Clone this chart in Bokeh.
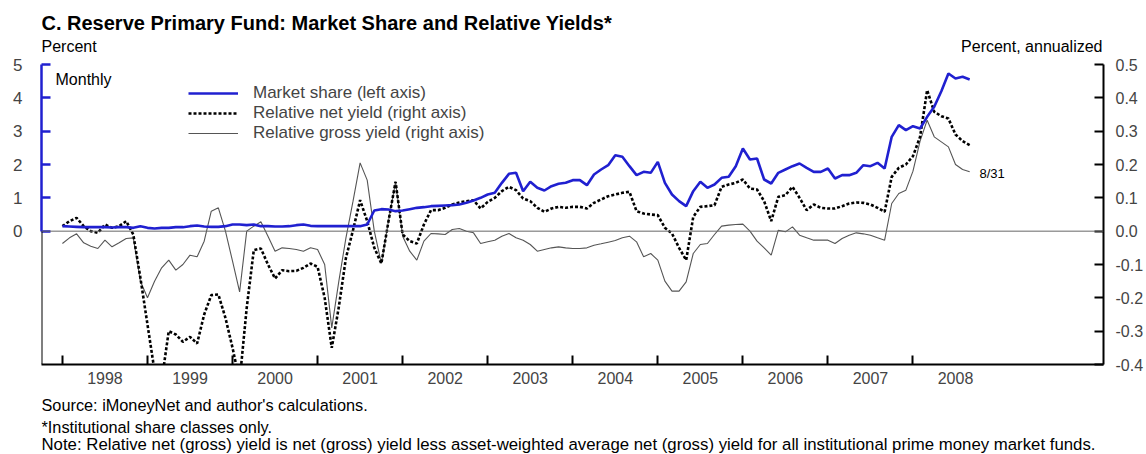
import pandas as pd
from bokeh.plotting import figure
from bokeh.layouts import column
from bokeh.core.properties import value
from bokeh.models import (Range1d, LinearAxis, FixedTicker, PrintfTickFormatter, Span, Label,
                          Legend, LegendItem, Arrow, CustomJSTickFormatter)
from bokeh.embed import file_html
from bokeh.resources import INLINE

# ---------------- data (month-end observations, 12/31/1997 .. 8/31/2008) ----------------
dates = pd.date_range("1997-12-31", "2008-08-31", freq="ME")
years = list(range(1998, 2009))

market_share = [  # percent, left axis
    0.15, 0.14, 0.13, 0.12, 0.12, 0.12, 0.12, 0.11, 0.12, 0.12,
    0.10, 0.15, 0.10, 0.08, 0.10, 0.10, 0.12, 0.12, 0.15, 0.17,
    0.14, 0.13, 0.13, 0.15, 0.20, 0.20, 0.18, 0.20, 0.15, 0.15,
    0.14, 0.14, 0.15, 0.18, 0.20, 0.16, 0.15, 0.15, 0.15, 0.15,
    0.15, 0.15, 0.15, 0.20, 0.62, 0.66, 0.65, 0.60, 0.62, 0.66,
    0.70, 0.72, 0.75, 0.76, 0.77, 0.78, 0.80, 0.85, 0.92, 1.00,
    1.10, 1.15, 1.45, 1.72, 1.75, 1.20, 1.48, 1.30, 1.22, 1.35,
    1.42, 1.45, 1.53, 1.53, 1.38, 1.70, 1.85, 1.98, 2.28, 2.23,
    1.95, 1.68, 1.78, 1.75, 2.08, 1.45, 1.10, 0.90, 0.75, 1.20,
    1.48, 1.30, 1.40, 1.60, 1.63, 1.95, 2.48, 2.15, 2.18, 1.55,
    1.43, 1.75, 1.85, 1.95, 2.03, 1.90, 1.78, 1.78, 1.88, 1.58,
    1.68, 1.68, 1.75, 1.98, 1.95, 2.05, 1.88, 2.83, 3.18, 3.03,
    3.15, 3.08, 3.43, 3.73, 4.20, 4.73, 4.58, 4.63, 4.55,
]

net_yield = [  # percent annualized, right axis
    0.015, 0.03, 0.04, 0.015, 0.0, -0.005, 0.02, 0.01, 0.015, 0.03,
    -0.01, -0.14, -0.28, -0.42, -0.45, -0.30, -0.31, -0.332, -0.317, -0.337,
    -0.25, -0.192, -0.19, -0.26, -0.35, -0.45, -0.23, -0.057, -0.052, -0.10,
    -0.142, -0.117, -0.12, -0.119, -0.11, -0.097, -0.107, -0.20, -0.35, -0.227,
    -0.08, 0.003, 0.093, 0.03, -0.05, -0.097, 0.03, 0.148, -0.01, -0.03,
    -0.037, 0.02, 0.063, 0.063, 0.07, 0.08, 0.086, 0.09, 0.093, 0.068,
    0.088, 0.10, 0.12, 0.133, 0.123, 0.098, 0.09, 0.07, 0.058, 0.068,
    0.073, 0.07, 0.073, 0.073, 0.068, 0.085, 0.095, 0.105, 0.11, 0.115,
    0.118, 0.06, 0.053, 0.05, 0.048, 0.01, -0.007, -0.05, -0.087, 0.043,
    0.073, 0.075, 0.078, 0.133, 0.14, 0.145, 0.155, 0.128, 0.125, 0.09,
    0.03, 0.103, 0.108, 0.133, 0.10, 0.063, 0.08, 0.07, 0.068, 0.068,
    0.075, 0.083, 0.086, 0.085, 0.08, 0.07, 0.058, 0.163, 0.19, 0.20,
    0.225, 0.283, 0.423, 0.358, 0.345, 0.338, 0.29, 0.27, 0.258,
]

gross_yield = [  # percent annualized, right axis
    -0.037, -0.02, -0.008, -0.035, -0.045, -0.052, -0.027, -0.047, -0.035, -0.022,
    -0.02, -0.15, -0.20, -0.15, -0.11, -0.087, -0.117, -0.10, -0.072, -0.077,
    -0.03, 0.06, 0.07, 0.0, -0.09, -0.182, 0.0, 0.015, 0.028, -0.015,
    -0.06, -0.05, -0.052, -0.055, -0.06, -0.05, -0.055, -0.10, -0.29, -0.15,
    -0.02, 0.09, 0.205, 0.153, 0.0, -0.097, 0.03, 0.148, -0.015, -0.06,
    -0.087, -0.03, -0.007, -0.008, -0.01, 0.005, 0.008, 0.0, -0.005, -0.037,
    -0.032, -0.027, -0.015, -0.007, -0.02, -0.027, -0.04, -0.06, -0.055, -0.05,
    -0.047, -0.05, -0.052, -0.052, -0.05, -0.042, -0.038, -0.033, -0.028, -0.02,
    -0.015, -0.032, -0.077, -0.067, -0.087, -0.15, -0.18, -0.18, -0.152, -0.067,
    -0.04, -0.037, -0.01, 0.015, 0.018, 0.02, 0.021, 0.0, -0.03, -0.05,
    -0.072, 0.003, -0.002, 0.013, -0.012, -0.02, -0.027, -0.027, -0.027, -0.037,
    -0.022, -0.012, -0.005, -0.008, -0.012, -0.02, -0.027, 0.083, 0.113, 0.123,
    0.18, 0.27, 0.333, 0.283, 0.268, 0.253, 0.20, 0.185, 0.178,
]

left_ticks = [0, 1, 2, 3, 4, 5]
right_ticks = [-0.4, -0.3, -0.2, -0.1, 0.0, 0.1, 0.2, 0.3, 0.4, 0.5]

title_text = "C. Reserve Primary Fund: Market Share and Relative Yields*"
left_unit = "Percent"
right_unit = "Percent, annualized"
notes = ["Source: iMoneyNet and author's calculations.",
         "*Institutional share classes only.",
         "Note: Relative net (gross) yield is net (gross) yield less asset-weighted average net "
         "(gross) yield for all institutional prime money market funds."]

x = [d.year + d.month / 12.0 for d in dates]

# ---------------- styling ----------------
FONT = "Liberation Sans"
BLUE = "#2020d0"
W = 1146
FX0, FX1 = 41, 1105          # page x of frame left / right (shared by all three figures)
X_START, X_END = 1997.754, 2010.24
HEAD_H, MAIN_H, FOOT_H = 54, 338, 62
FOOT_TOP = HEAD_H + MAIN_H    # page y of footer top


def text_fig(h):
    f = figure(width=W, height=h, x_range=Range1d(FX0, FX1), y_range=Range1d(h, 0),
               x_axis_location=None, y_axis_location=None, output_backend="svg",
               toolbar_location=None, min_border=0, min_border_left=FX0,
               min_border_right=W - FX1)
    f.title.visible = False
    f.grid.visible = False
    f.outline_line_color = None
    return f


# header
head = text_fig(HEAD_H)
head.text(x=[41], y=[22], text=[title_text], text_font=value(FONT), text_font_size="20px",
          text_font_style="bold", text_baseline="middle", text_align="left", text_color="black")
head.text(x=[41], y=[46], text=[left_unit], text_font=value(FONT), text_font_size="16px",
          text_baseline="middle", text_align="left", text_color="black")
head.text(x=[1104], y=[46], text=[right_unit], text_font=value(FONT), text_font_size="16px",
          text_baseline="middle", text_align="right", text_color="black")

# main chart
p = figure(width=W, height=MAIN_H, x_range=Range1d(X_START, X_END), y_range=Range1d(-0.4, 0.5),
           y_axis_location="right", output_backend="svg", toolbar_location=None,
           min_border_left=FX0, min_border_right=W - FX1, min_border_top=10,
           min_border_bottom=28)
p.title.visible = False
p.extra_y_ranges = {"share": Range1d(-4, 5)}
p.xgrid.visible = False
p.ygrid.visible = False
p.outline_line_color = None

xa = p.xaxis[0]
xa.ticker = FixedTicker(ticks=[y + 0.5 for y in years], minor_ticks=years)
xa.formatter = CustomJSTickFormatter(code="return String(Math.floor(tick));")
xa.major_tick_in = 0
xa.major_tick_out = 0
xa.minor_tick_in = 9
xa.minor_tick_out = 0
xa.minor_tick_line_width = 2
xa.minor_tick_line_color = "black"
xa.axis_line_width = 2
xa.major_label_standoff = 7
xa.major_label_text_font = FONT
xa.major_label_text_font_size = "16px"

ya = p.yaxis[0]
ya.ticker = FixedTicker(ticks=right_ticks)
ya.formatter = PrintfTickFormatter(format="%.1f")
ya.major_tick_in = 9
ya.major_tick_out = 0
ya.minor_tick_line_color = None
ya.major_tick_line_width = 2
ya.axis_line_width = 2
ya.major_label_standoff = 12
ya.major_label_text_font = FONT
ya.major_label_text_font_size = "16px"

la = LinearAxis(y_range_name="share", ticker=FixedTicker(ticks=left_ticks), bounds=(0, 5),
                axis_line_color=BLUE, axis_line_width=2.5, major_tick_line_color=BLUE,
                major_tick_line_width=2.5, major_tick_in=9, major_tick_out=0,
                minor_tick_line_color=None, major_label_standoff=19,
                major_label_text_font=FONT, major_label_text_font_size="17px")
p.add_layout(la, "left")
p.add_layout(Arrow(end=None, x_start=X_START, y_start=-4, x_end=X_START, y_end=0,
                   y_range_name="share", line_color="black", line_width=2))

p.add_layout(Span(location=0, dimension="width", line_color="#666666", line_width=1))

r_gross = p.line(x, gross_yield, line_color="#555555", line_width=1.1)
r_net = p.line(x, net_yield, line_color="black", line_width=2.6, line_dash="3 2")
r_share = p.line(x, market_share, y_range_name="share", line_color=BLUE, line_width=2.6)

legend = Legend(items=[LegendItem(label="Market share (left axis)", renderers=[r_share]),
                       LegendItem(label="Relative net yield (right axis)", renderers=[r_net]),
                       LegendItem(label="Relative gross yield (right axis)", renderers=[r_gross])],
                location=(147, 221), border_line_color=None, background_fill_alpha=0,
                padding=0, margin=0, spacing=0, glyph_width=50, glyph_height=14,
                label_height=14, label_standoff=15, label_text_font=FONT,
                label_text_font_size="17px")
p.add_layout(legend)

FB = 364  # page y of frame bottom (labels are frame-relative)


def inner_label(text, xp, yp, size):
    p.add_layout(Label(x=xp - FX0, y=FB - yp, x_units="screen", y_units="screen", text=text,
                       text_font=FONT, text_font_size=f"{size}px", text_align="left",
                       text_baseline="middle", text_color="black"))


inner_label("Monthly", 55, 79, 16)
inner_label("8/31", 979, 173, 13)

# footer
foot = text_fig(FOOT_H)
foot_y = [404 - FOOT_TOP, 426 - FOOT_TOP, 444 - FOOT_TOP]
foot_size = ["16.3px", "16.3px", "16.8px"]
for txt, yy, fs in zip(notes, foot_y, foot_size):
    foot.text(x=[41], y=[yy], text=[txt], text_font=value(FONT), text_font_size=fs,
              text_baseline="middle", text_align="left", text_color="black")

layout = column(head, p, foot, spacing=0)
open("out.html", "w").write(file_html(layout, INLINE))
